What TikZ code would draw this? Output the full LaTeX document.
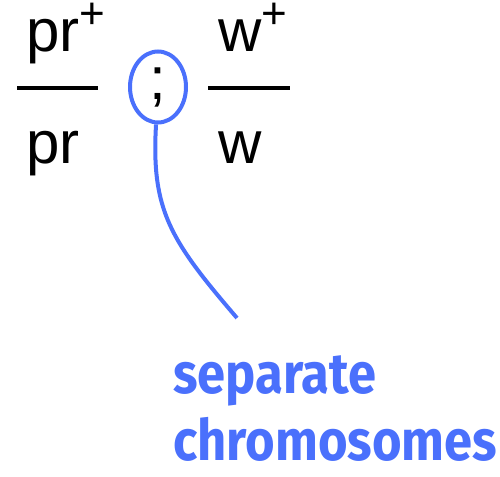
\documentclass[tikz,border=0pt]{standalone}
\usepackage{fontspec}
\setmainfont{Liberation Sans}
\newfontfamily\notefont[FakeStretch=0.89]{Fira Sans}
\usepackage{tikz}
\usetikzlibrary{shapes.geometric, positioning}
\definecolor{noteblue}{RGB}{74,112,252}
\newcommand{\plus}{\smash{\raisebox{23pt}{\fontsize{44}{44}\selectfont +}}}

\begin{document}
\begin{tikzpicture}[x=1pt, y=-1pt,
    gene/.style={inner sep=0pt, anchor=base west,
                 font=\fontsize{60}{60}\selectfont},
    bar/.style={line width=4pt, black},
    note/.style={inner sep=0pt, anchor=base west, align=left, noteblue,
                 font=\notefont\bfseries\fontsize{57}{67}\selectfont}]
  \useasboundingbox (0,0) rectangle (500,476);
  % genotype
  \node[gene] (prtop) at (26,52) {pr\plus};
  \node[gene] (prbot) at (26,163) {pr};
  \node[gene] (wtop) at (218,52) {w\plus};
  \node[gene] (wbot) at (218,163) {w};
  \draw[bar] (17,88) -- (98,88);
  \draw[bar] (208,88) -- (290,88);
  % the semicolon and its label
  \node[ellipse, draw=noteblue, line width=4pt, inner sep=0pt,
        minimum width=56pt, minimum height=71pt,
        font=\fontsize{60}{60}\selectfont] (semi) at (158,87) {;};
  \coordinate (tail) at (237,318);
  \draw[noteblue, line width=4pt]
    (semi.-93) .. controls (151,210) and (170,240) .. (tail);
  \node[note] (label) at (173,460) {separate\\chromosomes};
\end{tikzpicture}
\end{document}
